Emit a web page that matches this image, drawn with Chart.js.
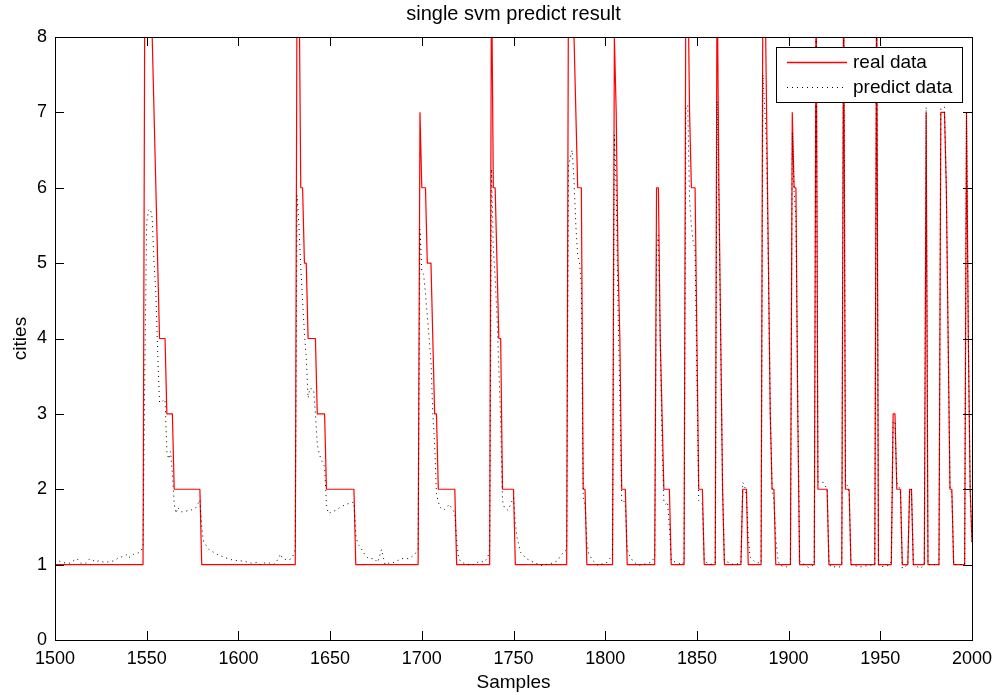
<!DOCTYPE html>
<html>
<head>
<meta charset="utf-8">
<title>single svm predict result</title>
<script src="https://cdn.jsdelivr.net/npm/chart.js@4.4.1/dist/chart.umd.min.js"></script>
<style>
  html, body { margin: 0; padding: 0; background: #fff; }
</style>
</head>
<body>
<canvas id="svmChart" width="996" height="695"></canvas>
<script>
// [sample, cities], corners of the real (step) curve
const realData = [
    [1500, 1], [1548, 1], [1549, 9], [1552, 9], [1553, 8], [1554, 7], [1555, 6], [1556, 5], [1557, 4], [1560, 4], [1561, 3], [1564, 3], [1565, 2], [1579, 2], [1580, 1],
    [1631, 1], [1632, 9], [1633, 9], [1634, 6], [1635, 6], [1636, 5], [1637, 5], [1638, 4], [1642, 4], [1643, 3], [1647, 3], [1648, 2], [1663, 2], [1664, 1],
    [1698, 1], [1699, 7], [1700, 6], [1702, 6], [1703, 5], [1705, 5], [1706, 4], [1707, 3], [1708, 3], [1709, 2], [1718, 2], [1719, 1],
    [1737, 1], [1738, 9], [1739, 6], [1740, 6], [1741, 5], [1742, 4], [1743, 4], [1744, 2], [1750, 2], [1751, 1],
    [1779, 1], [1780, 9], [1782, 9], [1783, 8], [1784, 7], [1785, 6], [1787, 6], [1788, 2], [1789, 2], [1790, 1],
    [1804, 1], [1805, 8], [1806, 7], [1807, 5], [1808, 4], [1809, 2], [1811, 2], [1812, 1],
    [1827, 1], [1828, 6], [1829, 6], [1830, 4], [1831, 3], [1832, 2], [1835, 2], [1836, 1],
    [1843, 1], [1844, 9], [1845, 9], [1846, 7], [1847, 6], [1849, 6], [1850, 4], [1851, 2], [1853, 2], [1854, 1],
    [1860, 1], [1861, 9], [1862, 6], [1863, 4], [1864, 2], [1865, 1],
    [1874, 1], [1875, 2], [1877, 2], [1878, 1],
    [1885, 1], [1886, 9], [1887, 9], [1888, 7], [1889, 5], [1890, 3], [1891, 2], [1892, 2], [1893, 1],
    [1901, 1], [1902, 7], [1903, 6], [1904, 6], [1905, 3], [1906, 1],
    [1914, 1], [1915, 9], [1916, 2], [1921, 2], [1922, 1],
    [1929, 1], [1930, 9], [1931, 2], [1933, 2], [1934, 1],
    [1947, 1], [1948, 9], [1949, 1],
    [1956, 1], [1957, 3], [1958, 3], [1959, 2], [1961, 2], [1962, 1],
    [1965, 1], [1966, 2], [1967, 2], [1968, 1],
    [1974, 1], [1975, 7], [1976, 1],
    [1982, 1], [1983, 7], [1985, 7], [1986, 6], [1987, 4], [1988, 2], [1989, 2], [1990, 1],
    [1996, 1], [1997, 7], [1998, 4], [1999, 2], [2000, 1.3]
];

// [sample, cities] of the svm prediction
const predictData = [
    [1500, 1.08], [1502, 1.05], [1504, 1.03], [1506, 1.02], [1508, 1.02], [1510, 1.05], [1512, 1.08], [1514, 1.02], [1517, 1.02], [1519, 1.08],
    [1522, 1.04], [1524, 1.05], [1527, 1.03], [1530, 1.04], [1532, 1.05], [1534, 1.08], [1536, 1.1], [1538, 1.12], [1539, 1.13], [1540, 1.09],
    [1542, 1.12], [1543, 1.14], [1545, 1.15], [1547, 1.18], [1548, 1.25], [1549, 3.6], [1550, 5.55], [1551, 5.7], [1552, 5.72], [1553, 5.6],
    [1554, 5.0], [1555, 4.6], [1556, 3.8], [1557, 3.15], [1558, 3.15], [1559, 3.18], [1560, 3.19], [1561, 2.5], [1562, 2.4], [1563, 2.5],
    [1564, 2.2], [1565, 1.8], [1566, 1.68], [1567, 1.76], [1568, 1.72], [1569, 1.7], [1571, 1.71], [1574, 1.72], [1577, 1.76], [1579, 1.86],
    [1580, 1.5], [1581, 1.3], [1582, 1.27], [1584, 1.2], [1586, 1.17], [1589, 1.13], [1593, 1.09], [1597, 1.06], [1601, 1.05], [1604, 1.04],
    [1607, 1.02], [1611, 1.03], [1612, 1.0], [1615, 1.03], [1617, 1.02], [1619, 1.0], [1621, 1.05], [1623, 1.14], [1624, 1.08], [1627, 1.06],
    [1629, 1.08], [1630, 1.13], [1631, 1.2], [1632, 5.9], [1633, 5.5], [1634, 4.96], [1635, 4.5], [1636, 4.07], [1637, 3.75], [1638, 3.21],
    [1639, 3.34], [1640, 3.33], [1641, 3.32], [1642, 3.0], [1643, 2.6], [1644, 2.48], [1645, 2.4], [1646, 2.35], [1647, 2.3], [1648, 1.8],
    [1649, 1.68], [1650, 1.69], [1653, 1.72], [1656, 1.77], [1660, 1.81], [1663, 1.83], [1664, 1.4], [1665, 1.28], [1667, 1.21], [1669, 1.13],
    [1671, 1.08], [1674, 1.08], [1676, 1.03], [1678, 1.2], [1680, 1.0], [1682, 1.02], [1685, 1.03], [1689, 1.08], [1693, 1.08], [1696, 1.13],
    [1698, 1.21], [1699, 5.45], [1700, 4.9], [1701, 4.85], [1702, 4.6], [1703, 4.3], [1704, 4.0], [1705, 3.7], [1706, 3.0], [1707, 2.6],
    [1708, 1.94], [1709, 1.83], [1710, 1.76], [1712, 1.72], [1715, 1.8], [1718, 1.68], [1719, 1.31], [1720, 1.1], [1721, 1.05], [1724, 1.0],
    [1728, 1.0], [1732, 1.05], [1734, 1.03], [1736, 1.1], [1737, 1.2], [1738, 6.25], [1739, 5.2], [1740, 4.8], [1741, 4.3], [1742, 3.6],
    [1743, 2.9], [1744, 1.85], [1745, 1.76], [1747, 1.72], [1750, 1.89], [1751, 1.55], [1752, 1.35], [1753, 1.25], [1754, 1.16], [1757, 1.08],
    [1761, 1.03], [1765, 0.99], [1770, 1.01], [1774, 1.05], [1776, 1.13], [1779, 1.2], [1780, 6.3], [1781, 6.4], [1782, 6.5], [1783, 6.1],
    [1784, 5.5], [1785, 5.1], [1786, 5.0], [1787, 4.7], [1788, 1.89], [1789, 1.8], [1790, 1.3], [1791, 1.15], [1793, 1.06], [1796, 0.99],
    [1801, 1.03], [1804, 1.13], [1805, 6.7], [1806, 6.0], [1807, 4.4], [1808, 3.2], [1809, 1.83], [1810, 1.85], [1811, 1.8], [1812, 1.2],
    [1813, 1.13], [1815, 1.05], [1818, 0.99], [1822, 1.01], [1825, 1.03], [1827, 1.1], [1828, 5.2], [1829, 5.37], [1830, 4.0], [1831, 2.6],
    [1832, 1.83], [1833, 1.8], [1834, 1.83], [1835, 1.5], [1836, 1.05], [1839, 1.03], [1842, 1.0], [1843, 1.05], [1844, 7.05], [1845, 7.1],
    [1846, 5.84], [1847, 5.5], [1848, 5.27], [1849, 5.2], [1850, 3.5], [1851, 1.85], [1852, 1.83], [1853, 1.8], [1854, 1.05], [1857, 1.0],
    [1860, 1.02], [1861, 7.15], [1862, 5.8], [1863, 3.9], [1864, 2.0], [1865, 1.05], [1867, 1.03], [1870, 1.0], [1874, 1.02], [1875, 2.09],
    [1876, 2.05], [1877, 1.9], [1878, 1.36], [1879, 1.1], [1882, 1.03], [1885, 1.02], [1886, 7.5], [1887, 7.04], [1888, 6.57], [1889, 4.9],
    [1890, 3.0], [1891, 2.02], [1892, 1.85], [1893, 1.36], [1894, 1.1], [1895, 0.99], [1899, 0.97], [1901, 1.0], [1902, 6.73], [1903, 5.95],
    [1904, 5.6], [1905, 3.2], [1906, 1.05], [1908, 1.01], [1911, 0.96], [1914, 1.0], [1915, 8.6], [1916, 2.1], [1919, 2.09], [1921, 2.0],
    [1922, 1.05], [1923, 0.97], [1928, 0.97], [1929, 1.0], [1930, 8.5], [1931, 2.09], [1932, 2.05], [1933, 1.95], [1934, 1.0], [1939, 0.97],
    [1944, 0.99], [1947, 1.0], [1948, 8.5], [1949, 1.0], [1950, 0.97], [1955, 0.99], [1956, 1.05], [1957, 2.9], [1958, 2.9], [1959, 2.09],
    [1960, 2.05], [1961, 1.95], [1962, 0.95], [1965, 1.0], [1966, 2.0], [1967, 2.0], [1968, 1.0], [1972, 0.95], [1974, 1.0], [1975, 7.07],
    [1976, 1.0], [1982, 1.0], [1983, 7.05], [1984, 7.07], [1985, 7.07], [1986, 6.0], [1987, 3.9], [1988, 2.0], [1989, 1.95], [1990, 1.0],
    [1996, 1.0], [1997, 7.0], [1998, 4.0], [1999, 2.0], [2000, 1.3]
];

const seriesNames = ['real data', 'predict data'];
const seriesColors = ['#ff0000', '#000000'];
const xRange = [1500, 2000];
const xStep = 50;
const yRange = [0, 8];
const yStep = 1;

const FONT = "'Liberation Sans', Arial, Helvetica, sans-serif";
const TICK_LEN = 9;

const toPoints = rows => rows.map(r => ({ x: r[0], y: r[1] }));

// matlab look: box, inward ticks on all sides, legend in the corner, titles
const matlabFrame = {
    id: 'matlabFrame',
    afterDatasetsDraw(chart) {
        const { ctx, chartArea: a, scales } = chart;
        ctx.save();
        ctx.strokeStyle = '#000';
        ctx.lineWidth = 1;
        ctx.beginPath();
        scales.x.ticks.forEach(t => {
            const px = Math.round(scales.x.getPixelForValue(t.value)) + 0.5;
            ctx.moveTo(px, a.bottom);
            ctx.lineTo(px, a.bottom - TICK_LEN);
            ctx.moveTo(px, a.top);
            ctx.lineTo(px, a.top + TICK_LEN);
        });
        scales.y.ticks.forEach(t => {
            const py = Math.round(scales.y.getPixelForValue(t.value)) + 0.5;
            ctx.moveTo(a.left, py);
            ctx.lineTo(a.left + TICK_LEN, py);
            ctx.moveTo(a.right, py);
            ctx.lineTo(a.right - TICK_LEN, py);
        });
        ctx.stroke();
        ctx.strokeRect(Math.round(a.left) + 0.5, Math.round(a.top) + 0.5,
            Math.round(a.right - a.left), Math.round(a.bottom - a.top));

        // legend
        const box = { x: Math.round(a.right) - 196, y: Math.round(a.top) + 10, w: 186, h: 55 };
        ctx.fillStyle = '#fff';
        ctx.fillRect(box.x, box.y, box.w, box.h);
        ctx.strokeRect(box.x + 0.5, box.y + 0.5, box.w, box.h);
        chart.data.datasets.forEach((ds, i) => {
            const ly = box.y + 15 + i * 24.5;
            ctx.save();
            ctx.strokeStyle = seriesColors[i];
            ctx.lineWidth = i === 0 ? 1.5 : 1;
            ctx.setLineDash(ds.borderDash || []);
            ctx.beginPath();
            ctx.moveTo(box.x + 11, Math.round(ly) + 0.5);
            ctx.lineTo(box.x + 71, Math.round(ly) + 0.5);
            ctx.stroke();
            ctx.restore();
            ctx.fillStyle = '#000';
            ctx.font = '19px ' + FONT;
            ctx.textAlign = 'left';
            ctx.textBaseline = 'middle';
            ctx.fillText(ds.label, box.x + 77, ly + 1);
        });

        // title and axis labels
        ctx.fillStyle = '#000';
        ctx.textAlign = 'center';
        ctx.textBaseline = 'alphabetic';
        ctx.font = '20px ' + FONT;
        ctx.fillText('single svm predict result', (a.left + a.right) / 2, 20);
        ctx.font = '19px ' + FONT;
        ctx.fillText('Samples', (a.left + a.right) / 2, 688);
        ctx.save();
        ctx.translate(26, (a.top + a.bottom) / 2);
        ctx.rotate(-Math.PI / 2);
        ctx.fillText('cities', 0, 0);
        ctx.restore();
        ctx.restore();
    }
};

const canvas = document.getElementById('svmChart');

new Chart(canvas, {
    type: 'line',
    data: {
        datasets: [{
            label: seriesNames[0],
            data: toPoints(realData),
            borderColor: seriesColors[0],
            borderWidth: 1.2,
            borderJoinStyle: 'bevel',
            pointRadius: 0,
            tension: 0,
            fill: false,
            order: 2
        }, {
            label: seriesNames[1],
            data: toPoints(predictData),
            borderColor: seriesColors[1],
            borderWidth: 1,
            borderDash: [1, 4],
            pointRadius: 0,
            tension: 0,
            fill: false,
            order: 1
        }]
    },
    options: {
        responsive: false,
        animation: false,
        devicePixelRatio: 1,
        layout: { padding: { top: 37, right: 24, left: 0, bottom: 0 } },
        plugins: {
            legend: { display: false },
            title: { display: false },
            tooltip: { enabled: false }
        },
        scales: {
            x: {
                type: 'linear',
                min: xRange[0],
                max: xRange[1],
                afterFit: s => {
                    s.height = 55;
                    s.paddingLeft = 0;
                    s.paddingRight = 0;
                },
                ticks: {
                    stepSize: xStep,
                    padding: 8,
                    color: '#000',
                    font: { family: FONT, size: 18 },
                    maxRotation: 0,
                    autoSkip: false,
                    callback: v => String(v)
                },
                grid: { display: false, drawTicks: false, tickLength: 0 },
                border: { display: false }
            },
            y: {
                type: 'linear',
                min: yRange[0],
                max: yRange[1],
                afterFit: s => { s.width = 55; },
                ticks: {
                    stepSize: yStep,
                    padding: 8,
                    color: '#000',
                    font: { family: FONT, size: 18 }
                },
                grid: { display: false, drawTicks: false, tickLength: 0 },
                border: { display: false }
            }
        }
    },
    plugins: [matlabFrame]
});
</script>
</body>
</html>
